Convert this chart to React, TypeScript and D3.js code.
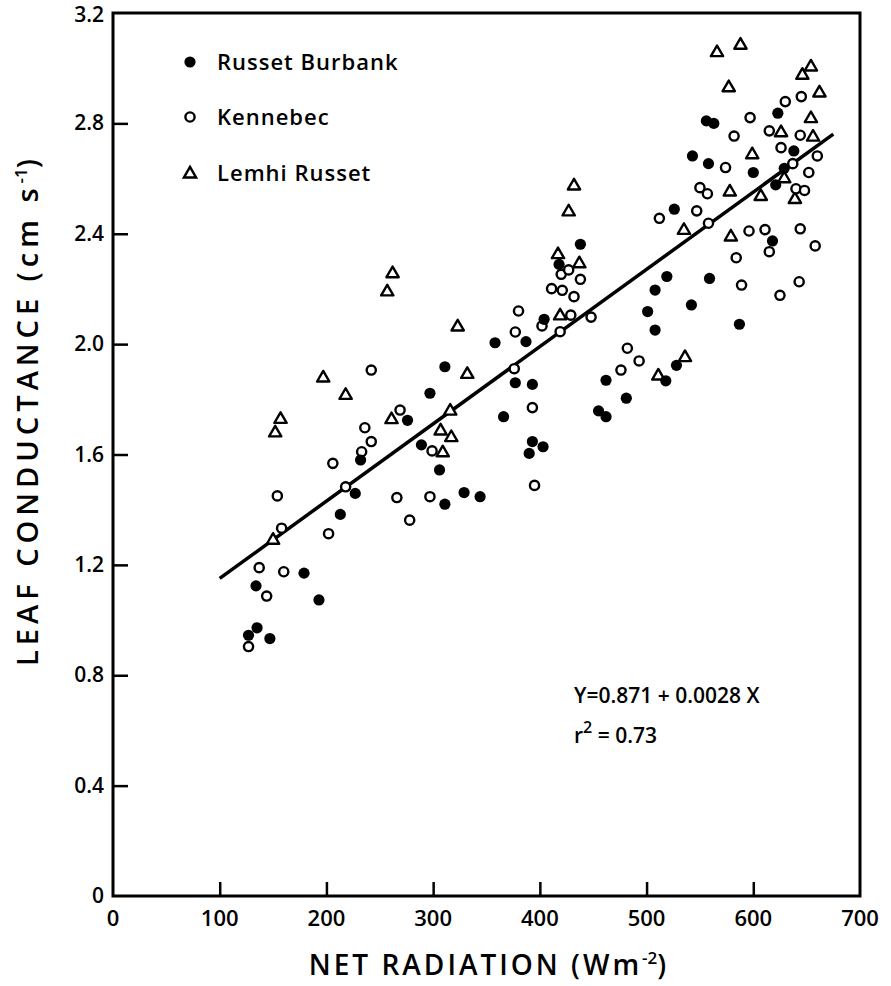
import React, { useEffect, useRef } from "react";
import * as d3 from "d3";

// Russet Burbank (filled circles): [net radiation, leaf conductance]
const russetBurbank: [number, number][] = [
  [127, 0.945], [135, 0.972], [147, 0.933], [134, 1.124], [179, 1.17], [193, 1.073],
  [213, 1.383], [227, 1.459], [232, 1.58], [276, 1.724], [289, 1.635], [297, 1.822],
  [306, 1.544], [311, 1.42], [311, 1.918], [329, 1.462], [344, 1.447], [358, 2.005],
  [366, 1.737], [377, 1.86], [387, 2.009], [393, 1.854], [393, 1.647], [403, 1.628],
  [390, 1.604], [404, 2.09], [418, 2.289], [438, 2.362], [455, 1.758], [462, 1.737],
  [462, 1.869], [481, 1.804], [501, 2.118], [508, 2.051], [508, 2.196], [518, 1.867],
  [519, 2.245], [526, 2.489], [528, 1.923], [543, 2.682], [542, 2.142], [556, 2.809],
  [563, 2.8], [558, 2.654], [559, 2.238], [587, 2.072], [600, 2.622], [618, 2.374],
  [621, 2.577], [623, 2.837], [629, 2.637], [638, 2.7],
];

// Kennebec (open circles)
const kennebec: [number, number][] = [
  [127, 0.904], [144, 1.087], [137, 1.19], [160, 1.175], [154, 1.45], [158, 1.333],
  [202, 1.313], [206, 1.568], [218, 1.483], [233, 1.61], [236, 1.697], [242, 1.647],
  [242, 1.906], [266, 1.444], [269, 1.761], [278, 1.362], [297, 1.447], [299, 1.613],
  [376, 1.911], [377, 2.044], [380, 2.12], [393, 1.77], [395, 1.488], [402, 2.066],
  [411, 2.201], [419, 2.045], [420, 2.253], [421, 2.195], [427, 2.269], [429, 2.105],
  [432, 2.172], [438, 2.235], [448, 2.098], [476, 1.906], [482, 1.985], [493, 1.939],
  [512, 2.456], [547, 2.483], [550, 2.567], [557, 2.545], [558, 2.438], [574, 2.64],
  [582, 2.754], [584, 2.313], [589, 2.214], [596, 2.41], [597, 2.821], [611, 2.415],
  [615, 2.773], [615, 2.335], [625, 2.177], [626, 2.712], [630, 2.879], [637, 2.654],
  [640, 2.563], [643, 2.226], [644, 2.757], [644, 2.418], [645, 2.897], [648, 2.557],
  [652, 2.622], [658, 2.356], [660, 2.682],
];

// Lemhi Russet (open triangles)
const lemhiRusset: [number, number][] = [
  [150, 1.293], [152, 1.682], [157, 1.731], [197, 1.881], [218, 1.818], [257, 2.193],
  [262, 2.259], [261, 1.73], [307, 1.689], [309, 1.61], [316, 1.761], [317, 1.665],
  [323, 2.066], [332, 1.894], [417, 2.328], [419, 2.106], [427, 2.483], [432, 2.577],
  [437, 2.295], [511, 1.888], [536, 1.955], [535, 2.416], [566, 3.06], [577, 2.933],
  [578, 2.555], [579, 2.392], [588, 3.087], [599, 2.69], [607, 2.539], [626, 2.77],
  [629, 2.603], [639, 2.528], [646, 2.978], [654, 3.008], [654, 2.821], [656, 2.754],
  [662, 2.914],
];

const xTicks = [0, 100, 200, 300, 400, 500, 600, 700];
const yTicks = [0, 0.4, 0.8, 1.2, 1.6, 2.0, 2.4, 2.8, 3.2];
const legendNames = ["Russet Burbank", "Kennebec", "Lemhi Russet"];
const fitIntercept = 0.871;
const fitSlope = 0.0028;
const fitRange = [100, 675];

const FONT = "'Open Sans', 'DejaVu Sans', sans-serif";

const App = () => {
  const svgRef = useRef<SVGSVGElement>(null);

  useEffect(() => {
    const svg = d3.select(svgRef.current);
    svg.selectAll("*").remove();

    const W = 891;
    const H = 986;
    const x = d3.scaleLinear().domain([0, 700]).range([113, 860]);
    const y = d3.scaleLinear().domain([0, 3.2]).range([896, 13]);

    svg.attr("width", W).attr("height", H).style("background", "#fff");

    // inward ticks
    svg.append("g")
      .attr("transform", `translate(0,${y(0)})`)
      .call(d3.axisBottom(x).tickValues(xTicks.slice(1, -1)).tickSizeInner(-14).tickSizeOuter(0).tickFormat(() => ""))
      .call((g) => g.select(".domain").remove())
      .selectAll("line")
      .attr("stroke", "#000")
      .attr("stroke-width", 2.5);

    svg.append("g")
      .attr("transform", `translate(${x(0)},0)`)
      .call(d3.axisLeft(y).tickValues(yTicks.slice(1, -1)).tickSizeInner(-15).tickSizeOuter(0).tickFormat(() => ""))
      .call((g) => g.select(".domain").remove())
      .selectAll("line")
      .attr("stroke", "#000")
      .attr("stroke-width", 2.5);

    // frame
    svg.append("rect")
      .attr("x", x(0))
      .attr("y", y(3.2))
      .attr("width", x(700) - x(0))
      .attr("height", y(0) - y(3.2))
      .attr("fill", "none")
      .attr("stroke", "#000")
      .attr("stroke-width", 3);

    // tick labels
    svg.append("g")
      .selectAll("text")
      .data(xTicks)
      .enter()
      .append("text")
      .attr("x", (d) => x(d))
      .attr("y", 926)
      .attr("text-anchor", "middle")
      .style("font-family", FONT)
      .style("font-size", "22px")
      .style("font-weight", 600)
      .text((d) => d);

    svg.append("g")
      .selectAll("text")
      .data(yTicks)
      .enter()
      .append("text")
      .attr("x", 104)
      .attr("y", (d) => (d === 3.2 ? y(d) + 9 : y(d) + 7))
      .attr("text-anchor", "end")
      .style("font-family", FONT)
      .style("font-size", "21px")
      .style("font-weight", 600)
      .text((d) => (d === 0 ? "0" : d.toFixed(1)));

    // axis titles
    const xt = svg.append("text")
      .attr("x", 489)
      .attr("y", 975)
      .attr("text-anchor", "middle")
      .style("font-family", FONT)
      .style("font-size", "28px")
      .style("font-weight", 600)
      .style("letter-spacing", "3px");
    xt.append("tspan").text("NET  RADIATION  (Wm");
    xt.append("tspan").attr("dy", -11).style("font-size", "17px").style("letter-spacing", "0px").text("-2");
    xt.append("tspan").attr("dy", 11).text(")");

    const yt = svg.append("text")
      .attr("transform", `translate(38,410) rotate(-90)`)
      .attr("text-anchor", "middle")
      .style("font-family", FONT)
      .style("font-size", "29px")
      .style("font-weight", 600)
      .style("letter-spacing", "5px");
    yt.append("tspan").text("LEAF   CONDUCTANCE   (cm s");
    yt.append("tspan").attr("dy", -11).style("font-size", "17px").style("letter-spacing", "0px").text("-1");
    yt.append("tspan").attr("dy", 11).text(")");

    // regression line
    const line = d3.line<number>()
      .x((d) => x(d))
      .y((d) => y(fitIntercept + fitSlope * d));
    svg.append("path")
      .datum(fitRange)
      .attr("d", line)
      .attr("fill", "none")
      .attr("stroke", "#000")
      .attr("stroke-width", 3.5);

    const tri = d3.symbol().type(d3.symbolTriangle).size(65);

    const drawFilled = (g: any, data: [number, number][]) =>
      g.selectAll(null)
        .data(data)
        .enter()
        .append("circle")
        .attr("cx", (d: [number, number]) => x(d[0]))
        .attr("cy", (d: [number, number]) => y(d[1]))
        .attr("r", 5.6)
        .attr("fill", "#000");

    const drawOpen = (g: any, data: [number, number][]) =>
      g.selectAll(null)
        .data(data)
        .enter()
        .append("circle")
        .attr("cx", (d: [number, number]) => x(d[0]))
        .attr("cy", (d: [number, number]) => y(d[1]))
        .attr("r", 4.6)
        .attr("fill", "#fff")
        .attr("stroke", "#000")
        .attr("stroke-width", 2.4);

    const drawTri = (g: any, data: [number, number][]) =>
      g.selectAll(null)
        .data(data)
        .enter()
        .append("path")
        .attr("d", tri)
        .attr("transform", (d: [number, number]) => `translate(${x(d[0])},${y(d[1]) + 1})`)
        .attr("fill", "#fff")
        .attr("stroke", "#000")
        .attr("stroke-width", 2.4)
        .attr("stroke-linejoin", "round");

    const pts = svg.append("g");
    drawTri(pts.append("g"), lemhiRusset);
    drawOpen(pts.append("g"), kennebec);
    drawFilled(pts.append("g"), russetBurbank);

    // legend
    const legendY = [62, 117, 173];
    const lg = svg.append("g");
    lg.append("circle").attr("cx", 190).attr("cy", legendY[0]).attr("r", 5.6).attr("fill", "#000");
    lg.append("circle").attr("cx", 190).attr("cy", legendY[1]).attr("r", 4.6)
      .attr("fill", "#fff").attr("stroke", "#000").attr("stroke-width", 2.4);
    lg.append("path").attr("d", tri).attr("transform", `translate(190,${legendY[2] + 1})`)
      .attr("fill", "#fff").attr("stroke", "#000").attr("stroke-width", 2.4);
    lg.selectAll("text")
      .data(legendNames)
      .enter()
      .append("text")
      .attr("x", 217)
      .attr("y", (_d, i) => legendY[i] + 8)
      .style("font-family", FONT)
      .style("font-size", "22px")
      .style("font-weight", 600)
      .style("letter-spacing", "1px")
      .text((d) => d);

    // equation
    svg.append("text")
      .attr("x", 574)
      .attr("y", 703)
      .style("font-family", FONT)
      .style("font-size", "21px")
      .style("font-weight", 600)
      .text("Y=0.871 + 0.0028 X");
    const r2 = svg.append("text")
      .attr("x", 574)
      .attr("y", 743)
      .style("font-family", FONT)
      .style("font-size", "21px")
      .style("font-weight", 600);
    r2.append("tspan").text("r");
    r2.append("tspan").attr("dy", -10).style("font-size", "16px").text("2");
    r2.append("tspan").attr("dy", 10).text(" = 0.73");
  }, []);

  return (
    <div style={{ position: "absolute", left: 0, top: 0 }}>
      <svg ref={svgRef} />
    </div>
  );
};

export default App;
